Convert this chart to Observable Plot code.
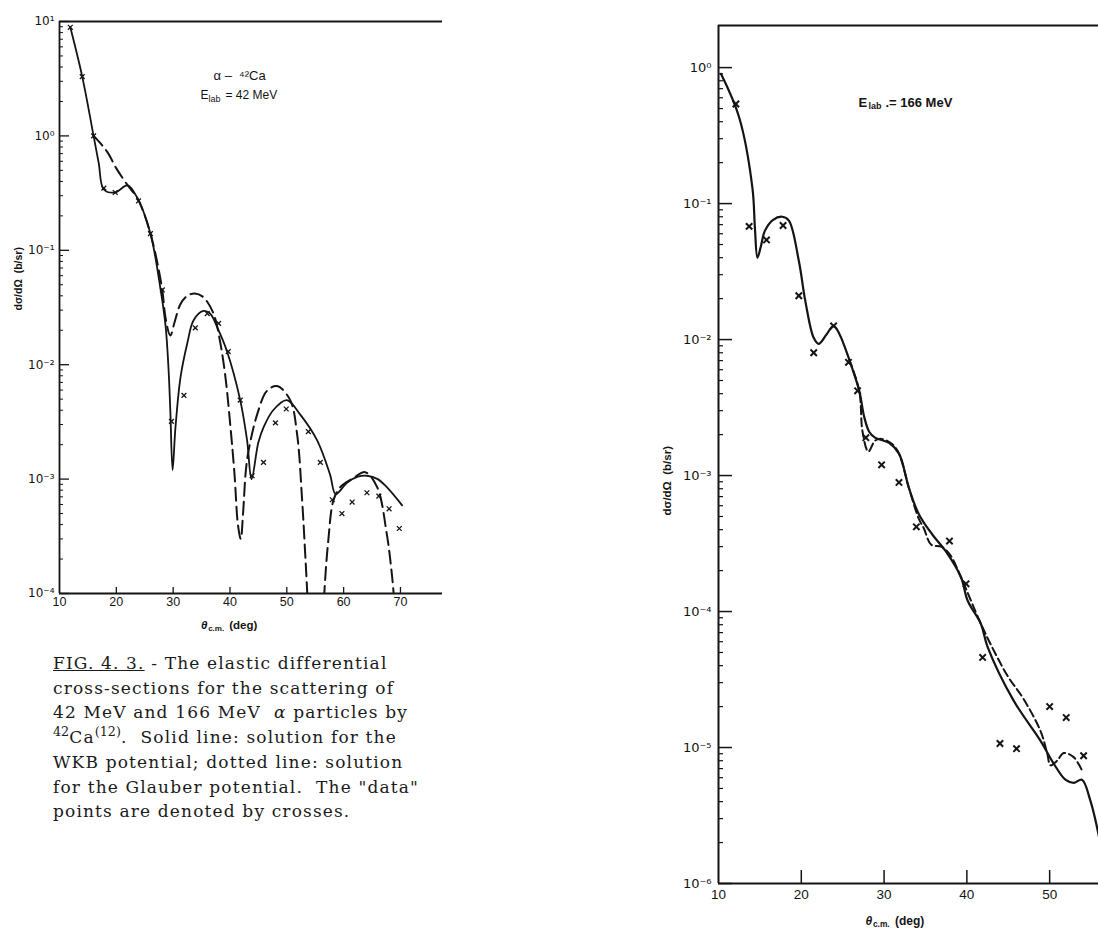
<!DOCTYPE html>
<html><head><meta charset="utf-8">
<script src="https://cdn.jsdelivr.net/npm/d3@7"></script>
<script src="https://cdn.jsdelivr.net/npm/@observablehq/plot@0.6"></script>
<style>
body{margin:0;background:#fff;}
#wrap{position:relative;width:1098px;height:931px;overflow:hidden;background:#fff;}
#left{position:absolute;left:0;top:0;}
#right{position:absolute;left:640px;top:0;}
#caption{position:absolute;left:53px;top:651px;font-family:"DejaVu Serif",serif;font-size:17px;letter-spacing:1.15px;line-height:24.7px;color:#1a1a1a;white-space:nowrap;}
#caption sup{font-size:0.75em;line-height:0;vertical-align:0.55em;letter-spacing:0;}
.ylab text{font-family:"DejaVu Sans",sans-serif;}
</style></head><body>
<div id="wrap"><div id="left"></div><div id="right"></div>
<div id="caption">
<div><u>FIG. 4. 3.</u> - The elastic differential</div>
<div>cross-sections for the scattering of</div>
<div>42 MeV and 166 MeV &nbsp;<i>α</i> particles by</div>
<div><sup>42</sup>Ca<sup>(12)</sup>. &nbsp;Solid line: solution for the</div>
<div>WKB potential; dotted line: solution</div>
<div>for the Glauber potential. &nbsp;The "data"</div>
<div>points are denoted by crosses.</div>
</div>
</div>
<script>
// ---------- Left panel: 42 MeV ----------
const leftWkbTheta = [11.9, 14, 16, 16.9, 17.8, 19.8, 22, 23.8, 26, 27.8, 28.7, 29.2, 29.5, 29.9, 30.4, 31.3, 32.5, 33.6, 35.3, 36.5, 37.8, 39.5, 41.8, 43.0, 43.8, 45.0, 46.0, 47.6, 50.0, 52.3, 55.3, 57.6, 58.6, 60.6, 62.5, 64.1, 66.0, 67.6, 70.3];
const leftWkbValue = [8.9, 3.3, 1.0, 0.58, 0.34, 0.32, 0.37, 0.28, 0.14, 0.045, 0.021, 0.0089, 0.004, 0.0012, 0.0028, 0.0078, 0.0155, 0.0245, 0.0295, 0.028, 0.021, 0.013, 0.0049, 0.0022, 0.001, 0.0021, 0.0029, 0.004, 0.0049, 0.0037, 0.0022, 0.0011, 0.00074, 0.00093, 0.00105, 0.00107, 0.001, 0.00085, 0.00059];
const leftGlauberTheta = [16, 17.3, 18.6, 20, 22, 23.8, 26, 28, 28.7, 29.5, 30.3, 31.3, 32.5, 33.8, 35.3, 37.1, 38.3, 39.2, 40.1, 40.8, 41.4, 41.9, 42.3, 42.8, 43.3, 44.8, 46.5, 48.3, 50.6, 51.8, 52.7, 53.2, 53.6, 54.0, 55.0, 56.2, 56.6, 57.3, 58.2, 59.4, 61.7, 63.8, 65.9, 67.6, 68.3, 68.8, 69.3];
const leftGlauberValue = [1.0, 0.85, 0.70, 0.52, 0.37, 0.28, 0.14, 0.048, 0.025, 0.018, 0.024, 0.034, 0.040, 0.042, 0.039, 0.028, 0.0155, 0.0078, 0.0028, 0.0011, 0.0004, 0.0003, 0.0005, 0.0012, 0.0018, 0.0037, 0.0059, 0.0065, 0.0049, 0.0025, 0.00065, 0.00024, 0.0001, 0.00003, 0.000005, 0.00003, 0.0001, 0.00029, 0.00065, 0.00085, 0.00102, 0.00115, 0.00085, 0.00033, 0.00018, 0.0001, 0.00004];
const leftDataTheta = [11.9, 14, 16, 17.8, 19.8, 23.9, 26, 28.1, 29.7, 31.9, 33.9, 36, 38, 39.7, 41.8, 43.9, 45.9, 48, 49.9, 53.8, 55.9, 58, 59.7, 61.5, 64.1, 66.2, 68, 69.8];
const leftDataValue = [8.9, 3.3, 1.0, 0.35, 0.32, 0.27, 0.14, 0.045, 0.0032, 0.0054, 0.021, 0.028, 0.023, 0.013, 0.0049, 0.00107, 0.0014, 0.0031, 0.0041, 0.0026, 0.0014, 0.00066, 0.0005, 0.00063, 0.00076, 0.00071, 0.00055, 0.00037];
const leftYTicks = [1e-4, 1e-3, 1e-2, 1e-1, 1, 10];
const leftYTickLabels = ["10⁻⁴", "10⁻³", "10⁻²", "10⁻¹", "10⁰", "10¹"];
const leftXTicks = [10, 20, 30, 40, 50, 60, 70];

// ---------- Right panel: 166 MeV ----------
const rightWkbTheta = [10.3, 12.5, 14.1, 14.4, 14.7, 15.1, 15.6, 16.6, 17.7, 18.5, 19.7, 20.5, 21.5, 22.1, 23.0, 23.9, 24.6, 25.8, 27.0, 27.6, 28.2, 28.9, 30.6, 31.8, 33.0, 34.2, 35.8, 37.4, 39.3, 40.1, 41.7, 42.5, 45.6, 48.9, 50.5, 51.9, 52.9, 53.9, 54.9, 55.9, 56.8];
const rightWkbValue = [0.9, 0.43, 0.13, 0.066, 0.040, 0.048, 0.063, 0.076, 0.080, 0.075, 0.038, 0.019, 0.0103, 0.0093, 0.0108, 0.0126, 0.011, 0.0071, 0.0042, 0.0027, 0.0021, 0.0019, 0.00174, 0.00145, 0.00081, 0.00052, 0.00037, 0.00028, 0.000178, 0.00012, 0.000081, 0.000055, 0.0000224, 0.0000112, 0.0000076, 0.0000058, 0.0000055, 0.0000058, 0.0000041, 0.0000023, 0.0000011];
const rightGlauberTheta = [25.8, 27.0, 27.4, 28.1, 28.9, 29.7, 30.9, 31.8, 33.0, 34.2, 34.8, 35.7, 36.9, 38.0, 39.3, 41.7, 43.3, 45.0, 46.8, 48.9, 49.7, 50.1, 50.9, 51.7, 52.9, 54.0];
const rightGlauberValue = [0.0071, 0.0042, 0.0021, 0.0015, 0.0018, 0.00186, 0.00172, 0.00145, 0.00081, 0.00048, 0.00041, 0.00031, 0.0003, 0.00026, 0.000178, 0.000081, 0.000051, 0.000033, 0.000023, 0.0000132, 0.0000091, 0.0000074, 0.000008, 0.0000091, 0.0000085, 0.0000066];
const rightDataTheta = [12.1, 13.7, 15.8, 17.8, 19.7, 21.5, 23.9, 25.7, 26.8, 27.8, 29.7, 31.8, 33.9, 37.9, 39.9, 41.9, 44, 46, 50, 52, 54.1];
const rightDataValue = [0.54, 0.068, 0.054, 0.069, 0.021, 0.008, 0.0126, 0.0068, 0.0042, 0.0019, 0.0012, 0.00089, 0.00042, 0.00033, 0.00016, 0.000046, 0.0000107, 0.0000098, 0.00002, 0.0000166, 0.0000087];
const rightYTicks = [1e-6, 1e-5, 1e-4, 1e-3, 1e-2, 1e-1, 1];
const rightYTickLabels = ["10⁻⁶", "10⁻⁵", "10⁻⁴", "10⁻³", "10⁻²", "10⁻¹", "10⁰"];
const rightXTicks = [10, 20, 30, 40, 50];

const yLabelText = "dσ/dΩ  (b/sr)";
const leftReaction = "α –  ⁴²Ca";
const leftEnergy = "= 42 MeV";
const rightEnergy = ".= 166 MeV";

const table = (th, v) => th.map((t, i) => ({theta: t, value: v[i]}));
const minorTicks = (lo, hi) => {
  const out = [];
  for (let e = lo; e < hi; e++) for (let m = 2; m <= 9; m++) out.push(m * Math.pow(10, e));
  return out;
};
const ink = "#141414";
const font = "'Liberation Sans', 'DejaVu Sans', sans-serif";

function axisLabel(fa, dx, dy, size) {
  return [
    Plot.text(["θ"], {frameAnchor: fa, dx: dx, dy: dy, text: d => d, textAnchor: "start", lineAnchor: "middle", fontSize: size, fontStyle: "italic", fontWeight: "bold", fill: ink}),
    Plot.text(["c.m."], {frameAnchor: fa, dx: dx + size * 0.62, dy: dy + 3, text: d => d, textAnchor: "start", lineAnchor: "middle", fontSize: size * 0.7, fontWeight: "bold", fill: ink}),
    Plot.text(["(deg)"], {frameAnchor: fa, dx: dx + size * 2.45, dy: dy, text: d => d, textAnchor: "start", lineAnchor: "middle", fontSize: size, fontWeight: "bold", fill: ink})
  ];
}

// Left plot
{
  const W = 460, H = 640, ml = 59, mt = 21, mr = 18, mb = 47;
  const FW = W - ml - mr, FH = H - mt - mb;
  const chart = Plot.plot({
    width: W, height: H, marginLeft: ml, marginTop: mt, marginRight: mr, marginBottom: mb,
    style: {fontFamily: font, fontSize: "12px", color: ink, background: "transparent"},
    x: {type: "linear", domain: [10, 77.4], label: null},
    y: {type: "log", domain: [1e-4, 10], label: null},
    marks: [
      Plot.ruleX([10], {stroke: ink, strokeWidth: 1.8}),
      Plot.ruleY([1e-4, 10], {stroke: ink, strokeWidth: 1.8}),
      Plot.ruleY(leftYTicks, {stroke: ink, strokeWidth: 1.3, insetRight: FW - 10}),
      Plot.ruleY(minorTicks(-4, 1), {stroke: ink, strokeWidth: 1, insetRight: FW - 4}),
      Plot.ruleX(leftXTicks.slice(1), {stroke: ink, strokeWidth: 1.3, insetTop: FH - 6}),
      Plot.axisY({ticks: leftYTicks, tickSize: 0, tickPadding: 5, label: null, fontSize: 12, className: "ylab", tickFormat: d => leftYTickLabels[leftYTicks.indexOf(d)]}),
      Plot.axisX({ticks: leftXTicks, tickSize: 0, tickPadding: 4, label: null, fontSize: 12.5, tickFormat: d => String(d)}),
      Plot.line(table(leftGlauberTheta, leftGlauberValue), {x: "theta", y: "value", curve: "catmull-rom", stroke: ink, strokeWidth: 2, strokeDasharray: "13,6", clip: true}),
      Plot.line(table(leftWkbTheta, leftWkbValue), {x: "theta", y: "value", curve: "catmull-rom", stroke: ink, strokeWidth: 1.8, clip: true}),
      Plot.dot(table(leftDataTheta, leftDataValue), {x: "theta", y: "value", symbol: "times", r: 2.3, stroke: ink, strokeWidth: 1.3}),
      Plot.text([yLabelText], {frameAnchor: "left", dx: -41, dy: 3, rotate: -90, text: d => d, fontSize: 10.5, fontWeight: "bold", fill: ink}),
      Plot.text([leftReaction], {frameAnchor: "top-left", dx: 154, dy: 54, text: d => d, textAnchor: "start", lineAnchor: "middle", fontSize: 13, fill: ink}),
      Plot.text(["E"], {frameAnchor: "top-left", dx: 141, dy: 74, text: d => d, textAnchor: "start", lineAnchor: "middle", fontSize: 12, fill: ink}),
      Plot.text(["lab"], {frameAnchor: "top-left", dx: 149, dy: 78, text: d => d, textAnchor: "start", lineAnchor: "middle", fontSize: 9, fill: ink}),
      Plot.text([leftEnergy], {frameAnchor: "top-left", dx: 166, dy: 74, text: d => d, textAnchor: "start", lineAnchor: "middle", fontSize: 12, fill: ink}),
      ...axisLabel("bottom", -50, 32, 11.5)
    ]
  });
  document.getElementById("left").appendChild(chart);
}

// Right plot
{
  const W = 458, H = 931, ml = 78, mt = 25, mr = 0, mb = 48;
  const FW = W - ml - mr, FH = H - mt - mb;
  const chart = Plot.plot({
    width: W, height: H, marginLeft: ml, marginTop: mt, marginRight: mr, marginBottom: mb,
    style: {fontFamily: font, fontSize: "13px", color: ink, background: "transparent", overflow: "hidden"},
    x: {type: "linear", domain: [10, 55.9], label: null},
    y: {type: "log", domain: [1e-6, 2.04], label: null},
    marks: [
      Plot.ruleX([10], {stroke: ink, strokeWidth: 2}),
      Plot.ruleY([1e-6, 2.04], {stroke: ink, strokeWidth: 2}),
      Plot.ruleY(rightYTicks, {stroke: ink, strokeWidth: 1.5, insetRight: FW - 14}),
      Plot.ruleY(minorTicks(-6, 0), {stroke: ink, strokeWidth: 1.2, insetRight: FW - 5}),
      Plot.ruleX(rightXTicks.slice(1), {stroke: ink, strokeWidth: 1.5, insetTop: FH - 13}),
      Plot.axisY({ticks: rightYTicks, tickSize: 0, tickPadding: 7, label: null, fontSize: 13, className: "ylab", tickFormat: d => rightYTickLabels[rightYTicks.indexOf(d)]}),
      Plot.axisX({ticks: rightXTicks, tickSize: 0, tickPadding: 6, label: null, fontSize: 13.5, tickFormat: d => String(d)}),
      Plot.line(table(rightGlauberTheta, rightGlauberValue), {x: "theta", y: "value", curve: "catmull-rom", stroke: ink, strokeWidth: 2, strokeDasharray: "8,4", clip: true}),
      Plot.line(table(rightWkbTheta, rightWkbValue), {x: "theta", y: "value", curve: "catmull-rom", stroke: ink, strokeWidth: 2.2, clip: true}),
      Plot.dot(table(rightDataTheta, rightDataValue), {x: "theta", y: "value", symbol: "times", r: 3, stroke: ink, strokeWidth: 2}),
      Plot.text([yLabelText], {frameAnchor: "left", dx: -51, dy: 61, rotate: -90, text: d => d, fontSize: 11.5, fontWeight: "bold", fill: ink}),
      Plot.text(["E"], {frameAnchor: "top-left", dx: 140, dy: 77, text: d => d, textAnchor: "start", lineAnchor: "middle", fontSize: 13, fontWeight: "bold", fill: ink}),
      Plot.text(["lab"], {frameAnchor: "top-left", dx: 150, dy: 81, text: d => d, textAnchor: "start", lineAnchor: "middle", fontSize: 9, fontWeight: "bold", fill: ink}),
      Plot.text([rightEnergy], {frameAnchor: "top-left", dx: 167, dy: 77, text: d => d, textAnchor: "start", lineAnchor: "middle", fontSize: 13, fontWeight: "bold", fill: ink}),
      ...axisLabel("bottom", -43, 38, 12)
    ]
  });
  document.getElementById("right").appendChild(chart);
}
</script>
</body></html>
